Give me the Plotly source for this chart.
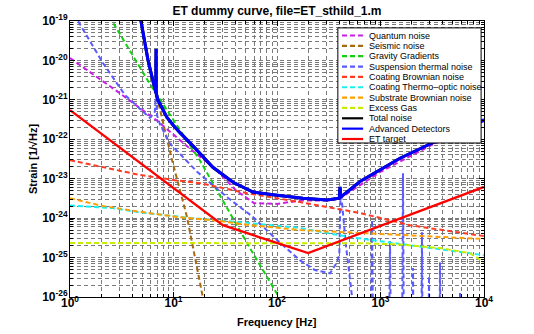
import plotly.graph_objects as go

# ---- data (frequency in Hz, strain in 1/sqrt(Hz)) ----
freq_quantum = [1, 3, 7, 10, 15, 25, 40, 60, 100, 170, 300, 400, 1000, 3000, 10000]
h_quantum = [1.15e-20, 1.5e-21, 2.9e-22, 1.3e-22, 5.3e-23, 1.85e-23, 5.1e-24, 2.4e-24,
             2.3e-24, 2.8e-24, 2.8e-24, 3.1e-24, 1.5e-23, 6.8e-23, 2.9e-22]

freq_seismic = [6.6, 9.7, 13.5, 19.3, 21]
h_seismic = [2.0e-21, 2.9e-23, 1.07e-24, 1e-26, 3e-27]

freq_gravity = [2.4, 5.93, 18.0, 54.8, 102, 110]
h_gravity = [1.3e-19, 2.5e-21, 2.9e-23, 1.74e-25, 1.1e-26, 7e-27]

freq_susp = [1, 2.08, 3.4, 4.44, 5.9, 6.6, 6.78, 6.95, 7.4, 9.2, 16.9, 32.9, 58.6, 100,
             167, 233, 325, 380, 400, 412, 464, 531, 600,
             800, 828, 856, 1200, 1236, 1270, 1610, 1649, 1690, 2020, 2060, 2100,
             2470, 2517, 2560, 2900, 2942, 2990, 3700, 3758, 3820, 5780, 5865, 5950, 10000]
h_susp = [2.2e-19, 8.6e-21, 1.32e-21, 6.9e-22, 3.5e-22, 5.0e-22, 1.5e-21, 4.0e-22, 2.4e-22,
          7.9e-23, 1.5e-23, 3.4e-24, 1.07e-24, 2.8e-25, 8.5e-26, 4.8e-26, 4.0e-26, 7.6e-26,
          1.2e-25, 5.8e-24, 2.0e-25, 1e-26, 1e-28,
          1e-28, 8.9e-25, 1e-28, 1e-28, 2.6e-25, 1e-28, 1e-28, 1.37e-23, 1e-28, 1e-28, 5.4e-26, 1e-28,
          1e-28, 4.4e-25, 1e-28, 1e-28, 3.4e-26, 1e-28, 1e-28, 7.6e-26, 1e-28, 1e-28, 1.26e-26, 1e-28, 1e-28]

freq_coat_brown = [1, 2.33, 4.75, 10.3, 18, 51.3, 167, 634, 1928, 10000]
h_coat_brown = [2.95e-23, 1.86e-23, 1.24e-23, 9.2e-24, 7.7e-24, 4.3e-24, 2.55e-24, 1.35e-24, 6.6e-25, 3.5e-25]

freq_coat_to = [1, 2.6, 4.75, 15.4, 51.3, 167, 507, 3008, 10000]
h_coat_to = [2.1e-24, 1.8e-24, 1.4e-24, 1.0e-24, 7.6e-25, 5.6e-25, 3.3e-25, 1.8e-25, 1.15e-25]

freq_substrate = [1, 1.95, 4.75, 11.5, 24, 51.3, 167, 1543, 10000]
h_substrate = [3.2e-24, 2.1e-24, 1.45e-24, 1.05e-24, 8.9e-25, 6.8e-25, 5.0e-25, 3.7e-25, 2.95e-25]

freq_gas = [1, 100, 700, 1500, 3758, 7300, 10000]
h_gas = [2.35e-25, 2.35e-25, 2.3e-25, 2.15e-25, 1.74e-25, 1.3e-25, 7.6e-26]

freq_adv = [4.75, 4.85, 5.67, 6.34, 6.75, 6.78, 6.81, 7.08, 7.92, 8.65, 9.9, 11.6, 15.4, 24,
            37.6, 58.6, 100, 178, 304, 400, 406, 412, 634, 989, 1543, 3008, 10000]
h_adv = [1.3e-19, 1e-19, 1.02e-20, 2.7e-21, 1.5e-21, 1.95e-20, 1.45e-21, 9.8e-22, 5.5e-22,
         3.6e-22, 2.3e-22, 1.45e-22, 6.8e-23, 1.95e-23, 8.1e-24, 4.6e-24, 3.8e-24, 3.2e-24,
         2.9e-24, 3.2e-24, 6.2e-24, 3.4e-24, 8.5e-24, 1.66e-23, 3.3e-23, 7.6e-23, 3.1e-22]

freq_et = [1, 30, 200, 10000]
h_et = [5.5e-22, 6.6e-25, 1.3e-25, 6.2e-24]

x_ticks = [1, 10, 100, 1000, 10000]
x_labels = ["10<sup>0</sup>", "10<sup>1</sup>", "10<sup>2</sup>", "10<sup>3</sup>", "10<sup>4</sup>"]
y_ticks = [1e-26, 1e-25, 1e-24, 1e-23, 1e-22, 1e-21, 1e-20, 1e-19]
y_labels = ["10<sup>-26</sup>", "10<sup>-25</sup>", "10<sup>-24</sup>", "10<sup>-23</sup>",
            "10<sup>-22</sup>", "10<sup>-21</sup>", "10<sup>-20</sup>", "10<sup>-19</sup>"]

DASH = "5px,3px"
series = [
    ("Quantum noise", freq_quantum, h_quantum, "#c81ee6", DASH, 2),
    ("Seismic noise", freq_seismic, h_seismic, "#a86a10", DASH, 2),
    ("Gravity Gradients", freq_gravity, h_gravity, "#10d010", DASH, 2),
    ("Suspension thermal noise", freq_susp, h_susp, "#5a5aff", DASH, 2),
    ("Coating Brownian noise", freq_coat_brown, h_coat_brown, "#ff3a22", DASH, 2),
    ("Coating Thermo\u2013optic noise", freq_coat_to, h_coat_to, "#18f0f0", DASH, 2),
    ("Substrate Brownian noise", freq_substrate, h_substrate, "#ffa000", DASH, 2),
    ("Excess Gas", freq_gas, h_gas, "#c8ec00", DASH, 2),
    ("Total noise", freq_adv, h_adv, "black", "solid", 3),
    ("Advanced Detectors", freq_adv, h_adv, "#0000ff", "solid", 3),
    ("ET target", freq_et, h_et, "#ff0000", "solid", 2.4),
]

fig = go.Figure()
for name, fx, hy, col, dash, w in series:
    fig.add_trace(go.Scatter(x=fx, y=hy, mode="lines", name=name,
                             line=dict(color=col, dash=dash, width=w)))

# minor tick positions (2..9 per decade)
x_minor = [k * 10 ** e for e in range(0, 4) for k in range(2, 10)]
y_minor = [k * 10.0 ** e for e in range(-26, -19) for k in range(2, 10)]

GRID = "#7a7a7a"
axis_common = dict(
    type="log", tickmode="array", ticks="inside", ticklen=5, tickcolor="black",
    mirror="allticks", showline=True, linecolor="black", linewidth=1,
    showgrid=True, gridcolor=GRID, griddash="4px,3px", gridwidth=1,
    zeroline=False, automargin=False,
    tickfont=dict(family="Liberation Sans, Arial, sans-serif", size=12, color="black"),
)
minor_common = dict(tickmode="array", ticks="inside", ticklen=3, tickcolor="black",
                    showgrid=True, gridcolor=GRID, griddash="4px,3px")
fig.update_xaxes(range=[0, 4], tickvals=x_ticks, ticktext=["<b>%s</b>" % t for t in x_labels],
                 ticklabelstandoff=-5,
                 minor=dict(tickvals=x_minor, **minor_common), **axis_common)
fig.update_yaxes(range=[-26, -19], tickvals=y_ticks, ticktext=["<b>%s</b>" % t for t in y_labels],
                 ticklabelstandoff=-1,
                 minor=dict(tickvals=y_minor, **minor_common), **axis_common)

# legend drawn by hand (matlab style, compact rows)
shapes = [dict(type="rect", xref="paper", yref="paper", x0=0.647, x1=0.993, y0=0.558, y1=0.975,
               fillcolor="white", line=dict(color="black", width=1), layer="above")]
annotations = []
for i, (name, fx, hy, col, dash, w) in enumerate(series):
    yp = (297 - (35.5 + 10.35 * i)) / 276
    shapes.append(dict(type="line", xref="paper", yref="paper", x0=0.657, x1=0.708, y0=yp, y1=yp,
                       line=dict(color=col, width=2.2, dash=dash), layer="above"))
    annotations.append(dict(xref="paper", yref="paper", x=0.717, y=yp, text=name, showarrow=False,
                            xanchor="left", yanchor="middle",
                            font=dict(size=9, color="black")))

annotations += [
    dict(xref="paper", yref="paper", x=0.5, y=0, yshift=-25, text="<b>Frequency [Hz]</b>",
         showarrow=False, xanchor="center", yanchor="middle", font=dict(size=11)),
    dict(xref="paper", yref="paper", x=0, y=0.5, xshift=-37, text="<b>Strain [1/\u221aHz]</b>",
         showarrow=False, textangle=-90, xanchor="center", yanchor="middle", font=dict(size=11)),
]

fig.update_layout(
    width=534, height=334,
    margin=dict(l=70, r=50, t=21, b=37),
    paper_bgcolor="white", plot_bgcolor="white",
    showlegend=False,
    font=dict(family="Liberation Sans, Arial, sans-serif", size=11, color="black"),
    title=dict(text="<b>ET dummy curve, file=ET_sthild_1.m</b>", x=0.5, xref="paper",
               y=1 - 11 / 334, yref="container", yanchor="middle", font=dict(size=12)),
    shapes=shapes, annotations=annotations,
)

fig.write_html("out.html", config={"displayModeBar": False},
               post_script="document.body.style.margin='0';")
